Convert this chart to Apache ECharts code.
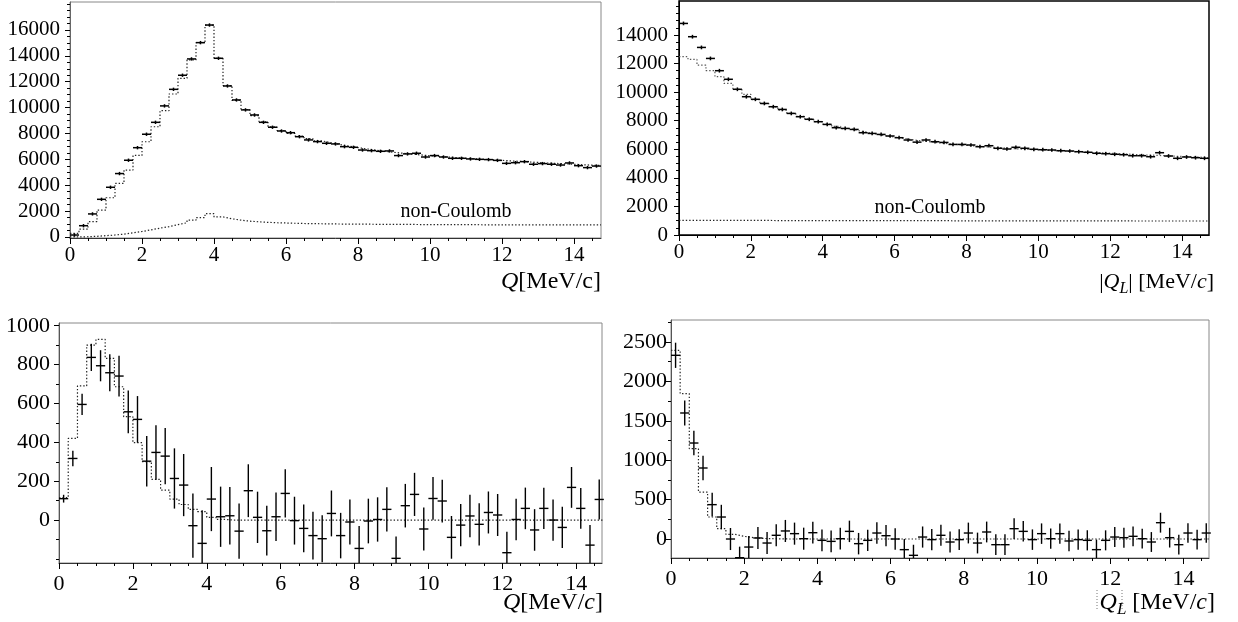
<!DOCTYPE html>
<html><head><meta charset="utf-8">
<script src="https://cdn.jsdelivr.net/npm/echarts@6/dist/echarts.min.js"></script>
<style>html,body{margin:0;padding:0;background:#fff}#c{width:1238px;height:622px}</style>
</head><body><div id="c"></div>
<script>
// ---------- data ----------
const binWidth = 0.25;
// top-left: Q spectrum (data, fit, non-Coulomb)
const qData = [150, 870, 1780, 2910, 3840, 4900, 5930, 6900, 7940, 8860, 10130, 11410, 12500, 13760, 15020, 16380, 13810, 11670, 10590, 9820, 9430, 8860, 8480, 8190, 8060, 7750, 7500, 7370, 7240, 7190, 6980, 6930, 6720, 6670, 6620, 6650, 6290, 6420, 6470, 6180, 6290, 6180, 6080, 6080, 6030, 6000, 5980, 5920, 5690, 5740, 5820, 5620, 5670, 5620, 5560, 5720, 5510, 5360, 5480];
const qFit = [280, 600, 1180, 2080, 3030, 4140, 5170, 6300, 7360, 8520, 9760, 11050, 12260, 13680, 15020, 16380, 13810, 11700, 10550, 9850, 9380, 8900, 8520, 8230, 8000, 7800, 7600, 7430, 7280, 7150, 7020, 6910, 6800, 6710, 6620, 6540, 6470, 6400, 6340, 6280, 6230, 6180, 6130, 6090, 6040, 6000, 5960, 5920, 5880, 5840, 5800, 5760, 5720, 5690, 5650, 5620, 5580, 5550, 5520];
const qNonCoulomb = [0, 20, 50, 100, 150, 220, 320, 420, 550, 680, 800, 950, 1100, 1300, 1500, 1800, 1550, 1400, 1300, 1220, 1170, 1130, 1100, 1080, 1060, 1040, 1030, 1020, 1010, 1000, 1000, 990, 990, 980, 980, 970, 970, 970, 960, 960, 960, 950, 950, 950, 950, 940, 940, 940, 940, 940, 930, 930, 930, 930, 930, 930, 930, 930, 930];
const qErr = 130;
// top-right: |QL| spectrum
const qlData = [14810, 13880, 13130, 12360, 11500, 10900, 10200, 9680, 9500, 9210, 8980, 8790, 8510, 8280, 8100, 7930, 7740, 7510, 7460, 7390, 7160, 7110, 7040, 6930, 6810, 6650, 6500, 6650, 6530, 6480, 6340, 6340, 6300, 6180, 6250, 6070, 6020, 6140, 6070, 6000, 5970, 5950, 5900, 5880, 5830, 5790, 5720, 5690, 5650, 5620, 5550, 5550, 5480, 5760, 5530, 5370, 5460, 5410, 5370];
const qlFit = [12480, 12290, 11890, 11500, 11080, 10610, 10200, 9840, 9480, 9200, 8960, 8740, 8520, 8310, 8110, 7930, 7760, 7600, 7450, 7310, 7180, 7060, 6950, 6850, 6760, 6670, 6590, 6520, 6450, 6390, 6330, 6280, 6230, 6180, 6140, 6100, 6060, 6020, 5990, 5960, 5930, 5900, 5870, 5840, 5810, 5780, 5750, 5720, 5690, 5660, 5630, 5600, 5580, 5550, 5520, 5500, 5470, 5450, 5410];
const qlNonCoulomb = [1020, 1020, 1020, 1020, 1020, 1020, 1020, 1020, 1020, 1020, 1010, 1010, 1010, 1010, 1010, 1010, 1010, 1010, 1010, 1010, 1000, 1000, 1000, 1000, 1000, 1000, 1000, 1000, 1000, 1000, 990, 990, 990, 990, 990, 990, 990, 990, 990, 990, 985, 985, 985, 985, 985, 985, 985, 985, 985, 985, 980, 980, 980, 980, 980, 980, 980, 980, 980];
const qlErr = 130;
// bottom-left: Q difference (data - non-Coulomb background)
const qDiff = [110, 317, 595, 837, 794, 758, 741, 557, 518, 303, 348, 329, 214, 180, -29, -120, 108, 17, 22, -57, 151, 14, -55, 17, 137, -3, -43, -80, -96, 34, -80, -10, -146, -5, 3, 55, -197, 74, 132, -46, 111, 98, -89, -26, 21, -22, 39, 26, -168, 3, 60, -51, 60, 0, -38, 168, 60, -129, 106];
const qDiffErr = [20, 40, 55, 70, 80, 95, 105, 110, 120, 130, 140, 145, 155, 160, 165, 170, 165, 155, 148, 142, 136, 132, 128, 125, 124, 123, 123, 123, 121, 118, 117, 116, 115, 115, 114, 114, 113, 112, 111, 111, 110, 110, 110, 109, 109, 109, 108, 108, 108, 107, 107, 107, 106, 106, 106, 105, 105, 104, 103];
const qDiffFit = [115, 420, 690, 900, 930, 832, 686, 532, 398, 300, 209, 154, 108, 80, 55, 43, 14, 3, 0, 0, 0, 0, 0, 0, 0, 0, 0, 0, 0, 0, 0, 0, 0, 0, 0, 0, 0, 0, 0, 0, 0, 0, 0, 0, 0, 0, 0, 0, 0, 0, 0, 0, 0, 0, 0, 0, 0, 0, 0];
// bottom-right: |QL| difference
const qlDiff = [2331, 1599, 1218, 901, 436, 279, 0, -237, -102, 13, -51, 47, 102, 68, 4, 80, -17, -30, 4, 97, -59, -17, 76, 42, 0, -135, -207, 25, -8, 47, -38, -8, 76, -51, 89, -72, -72, 131, 97, -8, 68, 4, 68, -25, -8, -17, -135, -17, 25, 17, 34, 4, -38, 207, 17, -72, 76, -8, 76];
const qlDiffErr = [160, 160, 155, 155, 150, 155, 140, 140, 140, 140, 140, 140, 140, 140, 140, 138, 138, 138, 138, 136, 136, 136, 136, 135, 135, 135, 134, 134, 134, 133, 133, 133, 132, 132, 132, 131, 131, 131, 130, 130, 130, 129, 129, 129, 128, 128, 128, 127, 127, 127, 126, 126, 126, 126, 125, 125, 125, 125, 125];
const qlDiffFit = [2394, 1844, 1146, 596, 279, 131, 59, 34, 17, 8, 4, 2, 0, 0, 0, 0, 0, 0, 0, 0, 0, 0, 0, 0, 0, 0, 0, 0, 0, 0, 0, 0, 0, 0, 0, 0, 0, 0, 0, 0, 0, 0, 0, 0, 0, 0, 0, 0, 0, 0, 0, 0, 0, 0, 0, 0, 0, 0, 0];

// tick labels
const xTickLabels = [0, 2, 4, 6, 8, 10, 12, 14];
const yTicksQ = [0, 2000, 4000, 6000, 8000, 10000, 12000, 14000, 16000];
const yTicksQL = [0, 2000, 4000, 6000, 8000, 10000, 12000, 14000];
const yTicksQDiff = [0, 200, 400, 600, 800, 1000];
const yTicksQLDiff = [0, 500, 1000, 1500, 2000, 2500];

// ---------- helpers ----------
const SERIF = '"Liberation Serif","Times New Roman",serif';
function range(a, b, s) { const r = []; for (let v = a; v <= b + 1e-9; v += s) r.push(+v.toFixed(6)); return r; }
const xMinor = range(0, 14.5, 0.5);

function stepPts(vals) {
  const pts = vals.map((v, k) => [k * binWidth, v]);
  pts.push([vals.length * binWidth, vals[vals.length - 1]]);
  return pts;
}
function crossData(vals, errs) {
  return vals.map((v, k) => [(k + 0.5) * binWidth, v, Array.isArray(errs) ? errs[k] : errs]);
}
function xAxes(gi, max, margin, fs, col) {
  return [
    { type: 'value', gridIndex: gi, position: 'bottom', min: 0, max: max,
      axisLine: { show: true, onZero: false, lineStyle: { color: col, width: 1 } }, splitLine: { show: false },
      axisTick: { show: true, customValues: xTickLabels, length: 6, lineStyle: { color: '#000' } },
      axisLabel: { customValues: xTickLabels, margin: margin, fontFamily: SERIF, fontSize: fs, color: '#000', formatter: v => String(v) } },
    { type: 'value', gridIndex: gi, position: 'bottom', min: 0, max: max,
      axisLine: { show: false, onZero: false }, splitLine: { show: false },
      axisTick: { show: true, customValues: xMinor, length: 3, lineStyle: { color: '#000' } },
      axisLabel: { show: false } }
  ];
}
function yAxes(gi, min, max, major, minor, margin, fs, col) {
  return [
    { type: 'value', gridIndex: gi, position: 'left', min: min, max: max,
      axisLine: { show: true, onZero: false, lineStyle: { color: col, width: 1 } }, splitLine: { show: false },
      axisTick: { show: true, customValues: major, length: 5, lineStyle: { color: '#000' } },
      axisLabel: { customValues: major, margin: margin, fontFamily: SERIF, fontSize: fs, color: '#000', formatter: v => String(v) } },
    { type: 'value', gridIndex: gi, position: 'left', min: min, max: max,
      axisLine: { show: false, onZero: false }, splitLine: { show: false },
      axisTick: { show: true, customValues: minor, length: 3, lineStyle: { color: '#000' } },
      axisLabel: { show: false } }
  ];
}
function stepSeries(gi, vals, color, dash) {
  return { type: 'line', xAxisIndex: 2 * gi, yAxisIndex: 2 * gi, data: stepPts(vals), step: 'end',
    symbol: 'none', silent: true, z: 3, lineStyle: { color: color, width: 1.2, type: dash } };
}
function crossSeries(gi, vals, errs, lo, hi, lw) {
  return { type: 'custom', xAxisIndex: 2 * gi, yAxisIndex: 2 * gi, data: crossData(vals, errs),
    encode: { x: 0, y: 1 }, silent: true, z: 5,
    renderItem(params, api) {
      const x = api.value(0), y = api.value(1), e = api.value(2);
      const a = api.coord([x - binWidth / 2, y]), b = api.coord([x + binWidth / 2, y]);
      const t = api.coord([x, Math.min(hi, y + e)]), d = api.coord([x, Math.max(lo, y - e)]);
      const st = { stroke: '#000', lineWidth: lw };
      const ch = [];
      if (y >= lo && y <= hi) ch.push({ type: 'line', shape: { x1: a[0], y1: a[1], x2: b[0], y2: b[1] }, style: st });
      ch.push({ type: 'line', shape: { x1: t[0], y1: t[1], x2: d[0], y2: d[1] }, style: st });
      return { type: 'group', children: ch };
    } };
}
function rs(size, italic) { return { fontSize: size, fontFamily: SERIF, fontStyle: italic ? 'italic' : 'normal', fill: '#000', lineHeight: 30 }; }
function sub(size) { return { fontSize: size, fontFamily: SERIF, fontStyle: 'italic', fill: '#000', lineHeight: 16, verticalAlign: 'bottom' }; }

// ranges
const P1 = { min: -80, max: 18160 }, P2 = { min: 0, max: 16380 }, P3 = { min: -221, max: 1014 }, P4 = { min: -241, max: 2779 };
const dots = [1.4, 2];

const option = {
  animation: false,
  backgroundColor: '#fff',
  grid: [
    { left: 70, top: 2, width: 531, height: 236, show: true, borderColor: '#888', borderWidth: 1 },
    { left: 679, top: 1, width: 530, height: 234, show: true, borderColor: '#000', borderWidth: 1.5 },
    { left: 59, top: 323, width: 543, height: 240, show: true, borderColor: '#888', borderWidth: 1 },
    { left: 671, top: 320, width: 538, height: 238, show: true, borderColor: '#888', borderWidth: 1 }
  ],
  xAxis: [].concat(
    xAxes(0, 14.75, 7, 21, '#333'),
    xAxes(1, 14.75, 7, 21, '#000'),
    xAxes(2, 14.7, 10, 22, '#333'),
    xAxes(3, 14.7, 10, 22, '#333')),
  yAxis: [].concat(
    yAxes(0, P1.min, P1.max, yTicksQ, range(0, 18000, 500), 10, 21, '#666'),
    yAxes(1, P2.min, P2.max, yTicksQL, range(0, 16000, 500), 11, 21, '#000'),
    yAxes(2, P3.min, P3.max, yTicksQDiff, range(-200, 1000, 100), 9, 22, '#555'),
    yAxes(3, P4.min, P4.max, yTicksQLDiff, range(-250, 2750, 250), 4, 22, '#555')),
  series: [
    stepSeries(0, qFit, '#222', dots),
    stepSeries(0, qNonCoulomb, '#222', dots),
    crossSeries(0, qData, qErr, P1.min, P1.max, 1.5),
    stepSeries(1, qlFit, '#555', dots),
    stepSeries(1, qlNonCoulomb, '#222', dots),
    crossSeries(1, qlData, qlErr, P2.min, P2.max, 1.5),
    stepSeries(2, qDiffFit, '#222', dots),
    crossSeries(2, qDiff, qDiffErr, P3.min, P3.max, 1.4),
    stepSeries(3, qlDiffFit, '#222', dots),
    crossSeries(3, qlDiff, qlDiffErr, P4.min, P4.max, 1.4)
  ],
  graphic: [
    { type: 'text', x: 456, y: 212, style: { text: 'non-Coulomb', fontSize: 20, fontFamily: SERIF, fill: '#000', align: 'center', verticalAlign: 'middle' } },
    { type: 'text', x: 930, y: 208, style: { text: 'non-Coulomb', fontSize: 20, fontFamily: SERIF, fill: '#000', align: 'center', verticalAlign: 'middle' } },
    { type: 'text', x: 601, y: 282, style: { text: '{i|Q}{n|[MeV/c]}', rich: { i: rs(24, true), n: rs(24, false) }, align: 'right', verticalAlign: 'middle' } },
    { type: 'text', x: 1214, y: 282, style: { text: '{n||}{i|Q}{s|L}{n|| [MeV/}{i|c}{n|]}', rich: { i: rs(22, true), n: rs(22, false), s: sub(16) }, align: 'right', verticalAlign: 'middle' } },
    { type: 'text', x: 603, y: 603, style: { text: '{i|Q}{n|[MeV/}{i|c}{n|]}', rich: { i: rs(24, true), n: rs(24, false) }, align: 'right', verticalAlign: 'middle' } },
    { type: 'text', x: 1215, y: 603, style: { text: '{i|Q}{s|L}{n| [MeV/}{i|c}{n|]}', rich: { i: rs(24, true), n: rs(24, false), s: sub(17) }, align: 'right', verticalAlign: 'middle' } },
    { type: 'line', shape: { x1: 1097, y1: 590, x2: 1097, y2: 610 }, style: { stroke: '#777', lineWidth: 1, lineDash: [1, 2] } },
    { type: 'line', shape: { x1: 1122, y1: 590, x2: 1122, y2: 610 }, style: { stroke: '#777', lineWidth: 1, lineDash: [1, 2] } }
  ]
};
const chart = echarts.init(document.getElementById('c'), null, { renderer: 'canvas' });
chart.setOption(option);
</script>
</body></html>
